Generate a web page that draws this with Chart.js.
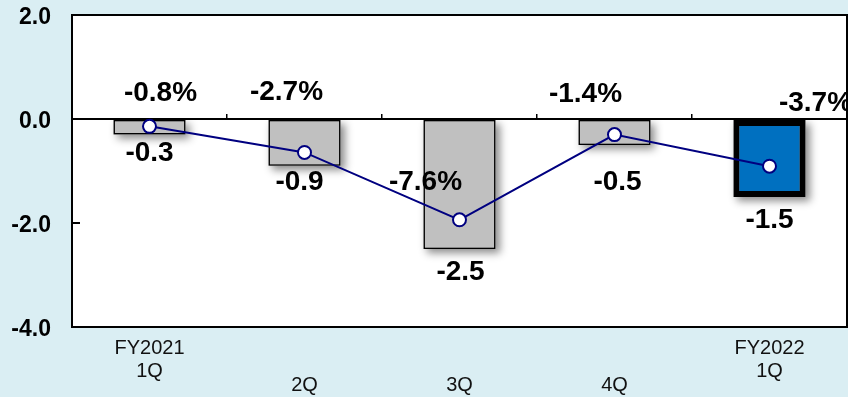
<!DOCTYPE html>
<html>
<head>
<meta charset="utf-8">
<script src="https://cdn.jsdelivr.net/npm/chart.js@4/dist/chart.umd.min.js"></script>
<style>
  html, body { margin: 0; padding: 0; background: #DAEEF3; }
  #c { display: block; }
</style>
</head>
<body>
<canvas id="c" width="848" height="397"></canvas>
<script>
// Quarterly change (bars, left scale) and growth rate in % (line, hidden right scale)
const categories = [["FY2021", "1Q"], ["", "2Q"], ["", "3Q"], ["", "4Q"], ["FY2022", "1Q"]];
const barValues = [-0.3, -0.9, -2.5, -0.5, -1.5];
const rateValues = [-0.8, -2.7, -7.6, -1.4, -3.7];
const yTicks = [2.0, 0.0, -2.0, -4.0];

const FONT = '"Liberation Sans", Arial, sans-serif';

// Label placement relative to each mark (dx, dy in px)
const barLabelShift = [[0, 19], [-5, 16], [1, 23], [3, 37], [0, 23]];
const rateLabelShift = [[11, -33], [-18, -60], [-34, -38], [-29, -40], [46, -63]];

// Keep the plot area fixed: no extra edge padding from tick labels
function noEdgePadding(s) {
  s.paddingTop = 0;
  s.paddingBottom = 0;
  s.paddingLeft = 0;
  s.paddingRight = 0;
}

const frame = {
  id: 'frame',
  beforeDraw(chart) {
    const { ctx, chartArea: a } = chart;
    ctx.save();
    ctx.fillStyle = '#DAEEF3';
    ctx.fillRect(0, 0, chart.width, chart.height);
    ctx.fillStyle = '#FFFFFF';
    ctx.fillRect(a.left, a.top, a.right - a.left, a.bottom - a.top);
    ctx.restore();
  },
  afterDraw(chart) {
    const { ctx, chartArea: a } = chart;
    ctx.save();
    ctx.strokeStyle = '#000';
    ctx.lineWidth = 2;
    ctx.strokeRect(a.left, a.top, a.right - a.left, a.bottom - a.top);
    ctx.restore();
  }
};

const barShadow = {
  id: 'barShadow',
  beforeDatasetDraw(chart, args) {
    if (args.index !== 0) return;
    const { ctx, chartArea: a } = chart;
    const zero = chart.scales.y.getPixelForValue(0);
    ctx.save();
    ctx.beginPath();
    ctx.rect(a.left, zero, a.right - a.left, a.bottom - zero);
    ctx.clip();
    ctx.shadowColor = 'rgba(0,0,0,0.45)';
    ctx.shadowBlur = 8;
    ctx.shadowOffsetX = 4;
    ctx.shadowOffsetY = 4;
    ctx.fillStyle = '#999';
    args.meta.data.forEach(el => {
      const { x, y, base, width } = el.getProps(['x', 'y', 'base', 'width'], true);
      ctx.fillRect(x - width / 2, Math.min(y, base), width, Math.abs(base - y));
    });
    ctx.restore();
  }
};

const valueLabels = {
  id: 'valueLabels',
  afterDatasetsDraw(chart) {
    const { ctx } = chart;
    ctx.save();
    ctx.font = 'bold 28px ' + FONT;
    ctx.fillStyle = '#000';
    ctx.textAlign = 'center';
    ctx.textBaseline = 'middle';
    chart.getDatasetMeta(0).data.forEach((el, i) => {
      const [dx, dy] = barLabelShift[i];
      ctx.fillText(barValues[i].toFixed(1), el.x + dx, el.y + dy);
    });
    chart.getDatasetMeta(1).data.forEach((el, i) => {
      const [dx, dy] = rateLabelShift[i];
      ctx.fillText(rateValues[i].toFixed(1) + '%', el.x + dx, el.y + dy);
    });
    ctx.restore();
  }
};

new Chart(document.getElementById('c'), {
  type: 'bar',
  data: {
    labels: categories,
    datasets: [
      {
        type: 'bar',
        data: barValues,
        xAxisID: 'x',
        yAxisID: 'y',
        order: 1,
        backgroundColor: barValues.map((v, i) => i === barValues.length - 1 ? '#0070C0' : '#C0C0C0'),
        borderColor: '#000',
        borderWidth: barValues.map((v, i) => i === barValues.length - 1 ? 6 : 1.5),
        borderSkipped: false,
        categoryPercentage: 1,
        barPercentage: 0.465
      },
      {
        type: 'line',
        data: rateValues,
        xAxisID: 'x',
        yAxisID: 'y2',
        order: 0,
        borderColor: '#000080',
        borderWidth: 2,
        tension: 0,
        pointRadius: 6.5,
        pointBackgroundColor: '#FFFFFF',
        pointBorderColor: '#000080',
        pointBorderWidth: 2
      }
    ]
  },
  options: {
    responsive: false,
    devicePixelRatio: 1,
    animation: false,
    layout: { autoPadding: false, padding: { top: 15, right: 1, left: 0, bottom: 0 } },
    plugins: { legend: { display: false }, tooltip: { enabled: false } },
    scales: {
      x: {
        offset: true,
        grid: { display: false, drawTicks: false },
        border: { display: false },
        ticks: {
          padding: 10,
          color: '#111',
          maxRotation: 0,
          autoSkip: false,
          font: (ctx) => {
            const c = categories[ctx.index];
            return { family: FONT, size: 20, lineHeight: (c && c[0]) ? 1.15 : 1.6 };
          }
        },
        afterFit: (s) => { s.height = 70; noEdgePadding(s); }
      },
      x2: {
        type: 'category',
        position: { y: 0 },
        offset: true,
        ticks: { display: false },
        grid: { offset: true, drawOnChartArea: false, drawTicks: true, tickLength: -6, color: '#000', lineWidth: 1.5 },
        border: { display: true, color: '#000', width: 2 },
        afterFit: (s) => { s.height = 0; noEdgePadding(s); }
      },
      y: {
        min: -4,
        max: 2,
        afterBuildTicks: (s) => { s.ticks = yTicks.map(v => ({ value: v })); },
        ticks: {
          color: '#000',
          padding: 29,
          labelOffset: 2.5,
          font: { family: FONT, size: 23, weight: 'bold' },
          callback: (v) => Number(v).toFixed(1)
        },
        grid: { drawOnChartArea: false, drawTicks: true, tickLength: -8, color: '#000', lineWidth: 2 },
        border: { display: true, color: '#000', width: 2 },
        afterFit: (s) => { s.width = 72; noEdgePadding(s); }
      },
      y2: {
        display: false,
        min: -15.4,
        max: 7.3
      }
    }
  },
  plugins: [frame, barShadow, valueLabels]
});
</script>
</body>
</html>
